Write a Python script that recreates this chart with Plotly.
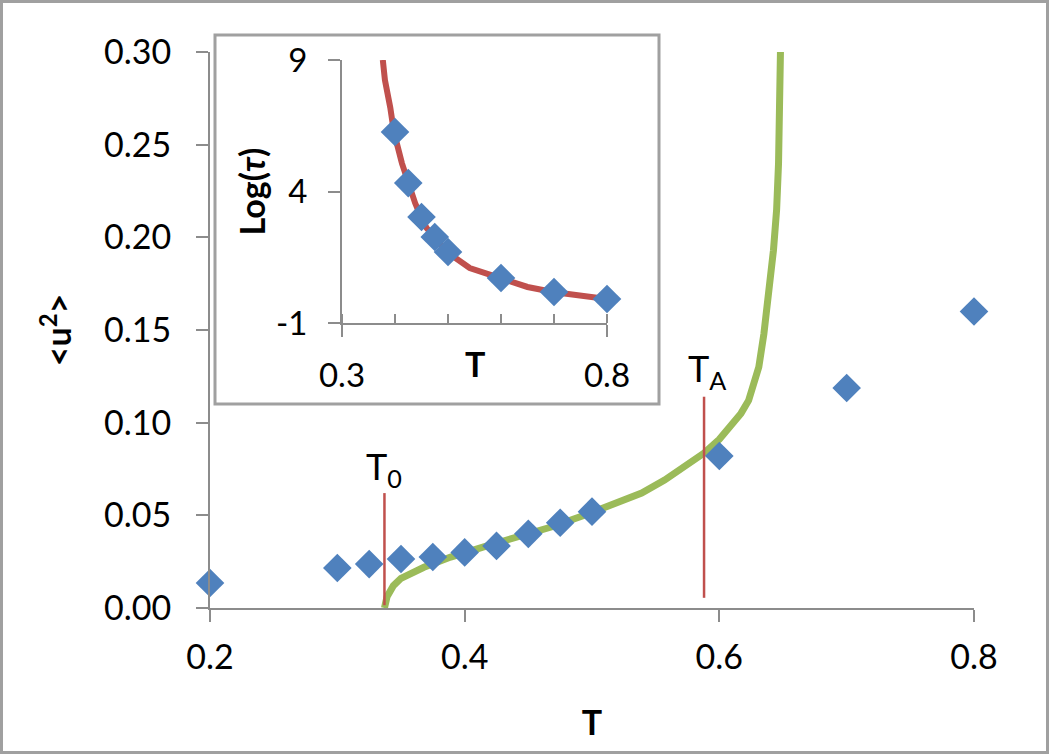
import plotly.graph_objects as go

# ---- data ----
T_main = [0.2, 0.3, 0.325, 0.35, 0.375, 0.4, 0.425, 0.45, 0.475, 0.5, 0.6, 0.7, 0.8]
u2_main = [0.0135, 0.0216, 0.0237, 0.0264, 0.0275, 0.030, 0.0335, 0.040, 0.046, 0.052, 0.082, 0.1187, 0.160]

T_fit = [0.337, 0.339, 0.344, 0.350, 0.368, 0.389, 0.415, 0.442, 0.468, 0.494, 0.520, 0.539,
         0.557, 0.575, 0.588, 0.600, 0.609, 0.617, 0.623, 0.631, 0.635, 0.639, 0.6425, 0.6450,
         0.6465, 0.648]
u2_fit = [0.000, 0.006, 0.012, 0.016, 0.022, 0.0275, 0.033, 0.038, 0.0437, 0.050, 0.0567, 0.062,
          0.069, 0.077, 0.0836, 0.091, 0.0977, 0.105, 0.112, 0.130, 0.148, 0.170, 0.193, 0.215,
          0.240, 0.300]

T0_line_x = [0.337, 0.337]
T0_line_y = [0.0015, 0.062]
TA_line_x = [0.588, 0.588]
TA_line_y = [0.0055, 0.114]

T_inset = [0.4, 0.425, 0.45, 0.475, 0.5, 0.6, 0.7, 0.8]
logtau_inset = [6.26, 4.32, 3.03, 2.27, 1.70, 0.71, 0.18, -0.09]

T_vft = [0.377, 0.381, 0.391, 0.398, 0.413, 0.425, 0.438, 0.449, 0.460, 0.475, 0.498, 0.541,
         0.600, 0.650, 0.698, 0.749, 0.800]
logtau_vft = [9.0, 8.24, 7.2, 6.26, 5.08, 4.32, 3.56, 3.03, 2.60, 2.27, 1.70, 1.09,
              0.71, 0.37, 0.18, 0.03, -0.09]

main_xticks = [0.2, 0.4, 0.6, 0.8]
main_yticks = [0.0, 0.05, 0.10, 0.15, 0.20, 0.25, 0.30]
inset_xticks = [0.3, 0.8]
inset_yticks = [-1, 4, 9]

# ---- styling ----
W, H = 1050, 755
L, R, TOP, B = 210, 974, 52, 608
FONT = "Lato, 'Open Sans', sans-serif"
AX = "#8C8C8C"
BLUE = "#4F81BD"
GREEN = "#9BBB59"
RED = "#C0504D"


def px(xp):
    return (xp - L) / (R - L)


def py(yp):
    return (B - yp) / (B - TOP)


fig = go.Figure()

fig.add_trace(go.Scatter(x=T_fit, y=u2_fit, mode="lines",
                         line=dict(color=GREEN, width=7), cliponaxis=False,
                         hoverinfo="skip", showlegend=False))
fig.add_trace(go.Scatter(x=T0_line_x, y=T0_line_y, mode="lines",
                         line=dict(color=RED, width=2.5), showlegend=False))
fig.add_trace(go.Scatter(x=TA_line_x, y=TA_line_y, mode="lines",
                         line=dict(color=RED, width=2.5), showlegend=False))
fig.add_trace(go.Scatter(x=T_main, y=u2_main, mode="markers",
                         marker=dict(symbol="diamond", size=22, color=BLUE, line=dict(width=0)),
                         cliponaxis=False, showlegend=False))

fig.add_trace(go.Scatter(x=T_vft, y=logtau_vft, mode="lines", xaxis="x2", yaxis="y2",
                         line=dict(color=RED, width=6), cliponaxis=False, showlegend=False))
fig.add_trace(go.Scatter(x=T_inset, y=logtau_inset, mode="markers", xaxis="x2", yaxis="y2",
                         marker=dict(symbol="diamond", size=22, color=BLUE, line=dict(width=0)),
                         cliponaxis=False, showlegend=False))

tickfont = dict(family=FONT, size=34, color="#000000")
titlefont = dict(family=FONT, size=34, color="#000000", weight="bold")

fig.update_layout(
    width=W, height=H,
    margin=dict(l=L, r=W - R, t=TOP, b=H - B, pad=0),
    paper_bgcolor="white", plot_bgcolor="white",
    showlegend=False,
    xaxis=dict(range=[0.2, 0.8], tickvals=main_xticks, ticktext=[f"{v:.1f}" for v in main_xticks],
               showgrid=False, zeroline=False, showline=True, linecolor=AX, linewidth=2,
               ticks="outside", ticklen=12, tickwidth=2, tickcolor=AX,
               tickfont=tickfont, ticklabelstandoff=6,
               title=dict(text="T", font=titlefont, standoff=36)),
    yaxis=dict(range=[0, 0.3], tickvals=main_yticks, ticktext=[f"{v:.2f}" for v in main_yticks],
               showgrid=False, zeroline=False, showline=True, linecolor=AX, linewidth=2,
               ticks="outside", ticklen=12, tickwidth=2, tickcolor=AX,
               tickfont=tickfont, ticklabelstandoff=18,
               title=dict(text="&lt;u<sup>2</sup>&gt;", font=titlefont, standoff=22)),
    xaxis2=dict(domain=[px(342), px(607)], anchor="y2", range=[0.3, 0.8],
                tickvals=inset_xticks, ticktext=["0.3", "0.8"],
                showgrid=False, zeroline=False, showline=True, linecolor=AX, linewidth=2,
                ticks="outside", ticklen=12, tickwidth=2, tickcolor=AX,
                minor=dict(dtick=0.1, tick0=0.3, ticks="inside", ticklen=9, tickwidth=2, tickcolor=AX),
                tickfont=dict(family=FONT, size=33, color="#000000"), ticklabelstandoff=10),
    yaxis2=dict(domain=[py(323), py(60)], anchor="x2", range=[-1, 9],
                tickvals=inset_yticks, ticktext=["-1", "4", "9"],
                showgrid=False, zeroline=False, showline=True, linecolor=AX, linewidth=2,
                ticks="outside", ticklen=12, tickwidth=2, tickcolor=AX,
                tickfont=dict(family=FONT, size=33, color="#000000"), ticklabelstandoff=14,
                title=dict(text="Log(<i>τ</i>)", font=titlefont, standoff=0)),
    shapes=[
        # inset frame
        dict(type="rect", xref="paper", yref="paper", x0=px(215), x1=px(659), y0=py(404), y1=py(35),
             line=dict(color="#A0A0A0", width=3), fillcolor="rgba(0,0,0,0)", layer="below"),
        # chart border
        dict(type="rect", xref="paper", yref="paper", x0=px(1.5), x1=px(1047.5), y0=py(752.5), y1=py(1.5),
             line=dict(color="#A0A0A0", width=3), fillcolor="rgba(0,0,0,0)", layer="below"),
    ],
    annotations=[
        dict(x=0.337, y=0.0755, xref="x", yref="y", text="T<sub>0</sub>", showarrow=False,
             font=dict(family=FONT, size=36, color="#000000"), xanchor="center", yanchor="middle"),
        dict(x=0.590, y=0.128, xref="x", yref="y", text="T<sub>A</sub>", showarrow=False,
             font=dict(family=FONT, size=36, color="#000000"), xanchor="center", yanchor="middle"),
        # inset x-axis title (sits between the tick labels, as in the reference)
        dict(x=0.55, y=py(363), xref="x2", yref="paper", text="T", showarrow=False,
             font=titlefont, xanchor="center", yanchor="middle"),
    ],
)

fig.write_html("out.html", config={"displayModeBar": False},
               post_script="document.body.style.margin='0';")
